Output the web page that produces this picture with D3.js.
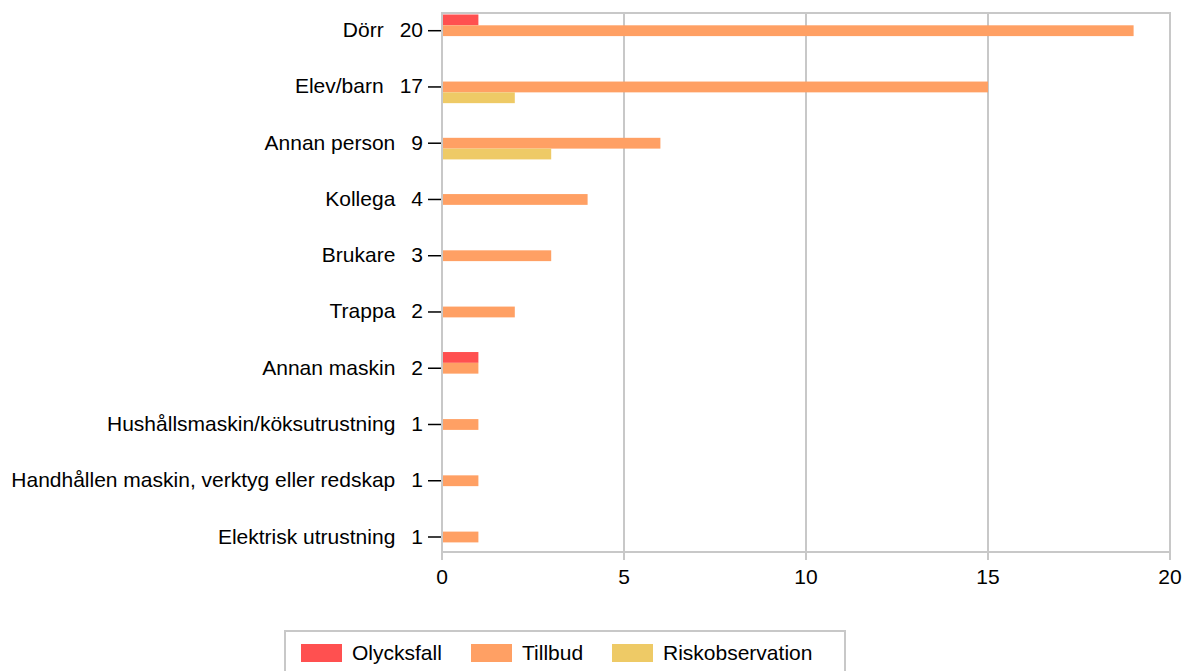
<!DOCTYPE html>
<html>
<head>
<meta charset="utf-8">
<script src="https://cdn.jsdelivr.net/npm/d3@7"></script>
<style>
  body { margin: 0; background: #fff; }
  svg { font-family: "Liberation Sans", Arial, sans-serif; }
</style>
</head>
<body>
<svg id="chart" width="1184" height="671"></svg>
<script>
const categories = ['Dörr', 'Elev/barn', 'Annan person', 'Kollega', 'Brukare', 'Trappa', 'Annan maskin',
	'Hushållsmaskin/köksutrustning', 'Handhållen maskin, verktyg eller redskap', 'Elektrisk utrustning'];
const totals = [20, 17, 9, 4, 3, 2, 2, 1, 1, 1];
const seriesNames = ['Olycksfall', 'Tillbud', 'Riskobservation'];
const olycksfall = [1, 0, 0, 0, 0, 0, 1, 0, 0, 0];
const tillbud = [19, 15, 6, 4, 3, 2, 1, 1, 1, 1];
const riskobservation = [0, 2, 3, 0, 0, 0, 0, 0, 0, 0];
const colors = ['#ff5050', '#ffa064', '#eeca66'];
const xTicks = [0, 5, 10, 15, 20];

const seriesValues = [olycksfall, tillbud, riskobservation];

const svg = d3.select('#chart');
const plotLeft = 442, plotRight = 1170, plotTop = 13, plotBottom = 552;
const fontSize = 21;

const x = d3.scaleLinear().domain([0, 20]).range([plotLeft, plotRight]);
const y = d3.scalePoint().domain(categories).range([30.7, 537]);
const sub = d3.scaleBand().domain(seriesNames).range([-16.2, 16.2]);

// grid
svg.append('g').selectAll('line').data(xTicks.slice(1, -1)).enter()
	.append('line')
	.attr('x1', d => x(d)).attr('x2', d => x(d))
	.attr('y1', plotTop).attr('y2', plotBottom)
	.attr('stroke', '#c8c8c8').attr('stroke-width', 2);

// frame
svg.append('rect')
	.attr('x', plotLeft).attr('y', plotTop)
	.attr('width', plotRight - plotLeft).attr('height', plotBottom - plotTop)
	.attr('fill', 'none').attr('stroke', '#c8c8c8').attr('stroke-width', 2);

// bars
seriesNames.forEach((name, s) => {
	const rows = categories.map((c, i) => ({ cat: c, value: seriesValues[s][i] })).filter(d => d.value > 0);
	svg.append('g').selectAll('rect').data(rows).enter()
		.append('rect')
		.attr('x', x(0) + 1)
		.attr('y', d => y(d.cat) + sub(name))
		.attr('width', d => x(d.value) - x(0) - 1)
		.attr('height', sub.bandwidth())
		.attr('fill', colors[s]);
});

// x axis ticks & labels
const xg = svg.append('g');
xg.selectAll('line').data(xTicks).enter().append('line')
	.attr('x1', d => x(d)).attr('x2', d => x(d))
	.attr('y1', plotBottom).attr('y2', plotBottom + 8)
	.attr('stroke', '#c8c8c8').attr('stroke-width', 2);
xg.selectAll('text').data(xTicks).enter().append('text')
	.attr('x', d => x(d)).attr('y', plotBottom + 32)
	.attr('text-anchor', 'middle')
	.attr('font-size', fontSize).attr('fill', '#000')
	.text(d => d);

// y labels
const yg = svg.append('g');
categories.forEach((c, i) => {
	const cy = y(c);
	yg.append('line')
		.attr('x1', 428).attr('x2', 441)
		.attr('y1', cy).attr('y2', cy)
		.attr('stroke', '#000').attr('stroke-width', 1.5);
	const num = yg.append('text')
		.attr('x', 423).attr('y', cy + 6.5)
		.attr('text-anchor', 'end')
		.attr('font-size', fontSize).attr('fill', '#000')
		.text(totals[i]);
	const w = num.node().getComputedTextLength();
	yg.append('text')
		.attr('x', 423 - w - 16).attr('y', cy + 6.5)
		.attr('text-anchor', 'end')
		.attr('font-size', fontSize).attr('fill', '#000')
		.text(c);
});

// legend
const lg = svg.append('g');
lg.append('rect')
	.attr('x', 285).attr('y', 631)
	.attr('width', 560).attr('height', 60)
	.attr('fill', '#fff').attr('stroke', '#c8c8c8').attr('stroke-width', 2);
const legendX = [301, 471, 612];
seriesNames.forEach((name, s) => {
	lg.append('rect')
		.attr('x', legendX[s]).attr('y', 644)
		.attr('width', 41).attr('height', 18)
		.attr('fill', colors[s]);
	lg.append('text')
		.attr('x', legendX[s] + 51).attr('y', 660)
		.attr('font-size', fontSize).attr('fill', '#000')
		.text(name);
});
</script>
</body>
</html>
